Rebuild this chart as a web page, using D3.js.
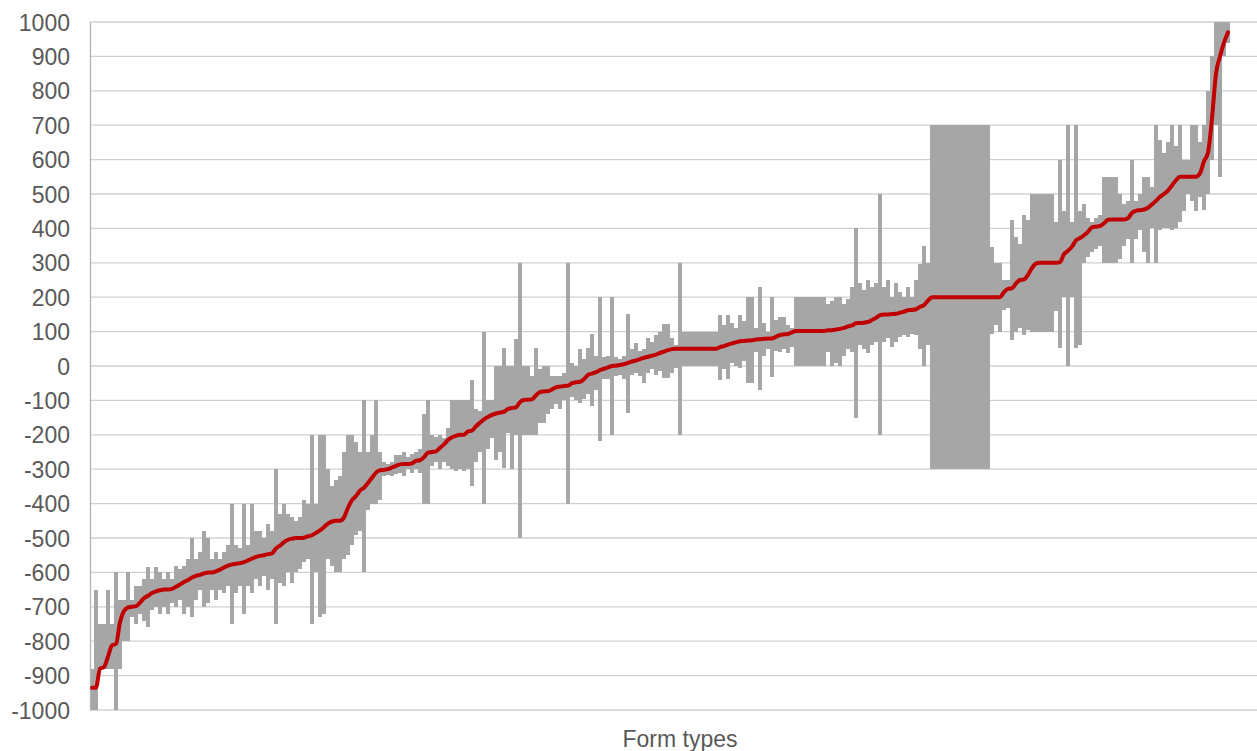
<!DOCTYPE html>
<html>
<head>
<meta charset="utf-8">
<script src="https://cdn.jsdelivr.net/npm/d3@7"></script>
<style>
  html, body { margin: 0; padding: 0; background: #ffffff; }
  svg { display: block; }
</style>
</head>
<body>
<svg id="chart" width="1257" height="751"></svg>
<script>
// Median value per form type, sorted ascending
const medianValues = [
  -935,-935,-880,-875,-845,-812,-808,-745,-712,-702,
  -700,-698,-688,-675,-668,-660,-655,-652,-650,-650,
  -648,-642,-635,-628,-622,-615,-610,-607,-603,-600,
  -600,-597,-592,-586,-580,-577,-575,-573,-570,-565,
  -560,-555,-552,-550,-547,-545,-530,-522,-512,-505,
  -502,-500,-500,-499,-495,-492,-485,-478,-468,-458,
  -452,-450,-450,-440,-412,-390,-378,-362,-354,-340,
  -325,-310,-303,-302,-300,-295,-290,-286,-285,-285,
  -283,-276,-274,-265,-252,-250,-248,-238,-228,-215,
  -207,-203,-200,-200,-190,-188,-175,-165,-155,-148,
  -142,-138,-135,-133,-125,-122,-120,-105,-99,-98,
  -97,-85,-76,-74,-73,-68,-62,-60,-58,-57,
  -50,-47,-46,-38,-26,-22,-18,-12,-8,-4,
  0,1,3,5,9,13,16,20,24,27,
  30,33,38,42,46,49,50,50,50,50,
  50,50,50,50,50,50,50,55,58,62,
  66,69,72,73,74,75,77,78,79,80,
  80,85,90,92,93,98,102,102,102,102,
  102,102,102,102,104,104,106,108,111,115,
  118,124,125,126,128,134,140,148,150,150,
  151,152,155,158,162,163,165,172,177,190,
  200,200,200,200,200,200,200,200,200,200,
  200,200,200,200,200,200,200,200,215,224,
  226,240,250,252,265,285,298,300,300,300,
  300,300,302,325,335,347,365,372,380,390,
  403,405,407,415,425,426,426,426,426,430,
  445,451,453,455,460,470,480,492,500,510,
  525,540,550,550,550,550,550,560,595,620,
  720,850,900,940,970
];

// Lowest value per form type
const minValues = [
  -1000,-1000,-880,-880,-880,-880,-1000,-880,-800,-800,
  -730,-750,-720,-740,-760,-710,-700,-720,-700,-720,
  -690,-700,-680,-720,-700,-730,-680,-650,-700,-690,
  -650,-680,-650,-660,-640,-750,-660,-640,-720,-640,
  -660,-620,-640,-610,-650,-620,-750,-630,-640,-600,
  -630,-600,-590,-570,-560,-750,-600,-730,-720,-560,
  -580,-600,-600,-560,-550,-520,-490,-480,-600,-420,
  -400,-400,-390,-320,-318,-320,-315,-310,-320,-300,
  -310,-300,-310,-400,-400,-290,-280,-300,-280,-290,
  -300,-305,-300,-305,-300,-350,-280,-250,-400,-240,
  -210,-272,-250,-296,-194,-300,-200,-500,-200,-200,
  -200,-200,-165,-165,-140,-126,-110,-126,-100,-400,
  -90,-100,-107,-95,-80,-116,-70,-218,-39,-39,
  -200,-30,-25,-39,-136,-25,-20,-29,-48,-20,
  -10,-25,-15,-34,-34,-20,-5,-200,0,0,
  0,0,0,0,0,0,0,-41,-10,-38,
  10,0,-7,15,-50,-50,40,-70,30,50,
  -31,45,40,50,37,56,0,0,0,0,
  0,0,0,0,40,0,10,0,30,50,
  40,-152,60,50,37,60,70,-200,70,80,
  55,70,85,90,85,94,90,50,0,60,
  -300,-300,-300,-300,-300,-300,-300,-300,-300,-300,
  -300,-300,-300,-300,-300,94,120,100,163,170,
  75,100,110,89,104,100,100,100,100,100,
  100,160,51,200,0,200,51,60,300,318,
  330,340,350,300,300,300,300,310,350,370,
  300,370,395,330,300,400,300,395,400,400,
  395,400,420,450,500,480,450,490,453,500,
  600,700,549,900,940
];

// Highest value per form type
const maxValues = [
  -880,-650,-750,-750,-650,-750,-600,-680,-680,-600,
  -680,-640,-640,-620,-585,-620,-585,-600,-620,-600,
  -620,-580,-590,-580,-560,-500,-560,-540,-480,-500,
  -560,-540,-560,-540,-520,-400,-520,-530,-400,-520,
  -400,-480,-480,-500,-460,-480,-300,-430,-400,-430,
  -440,-450,-440,-390,-400,-200,-400,-200,-200,-300,
  -350,-330,-320,-250,-200,-200,-220,-250,-100,-250,
  -200,-100,-250,-280,-285,-280,-260,-260,-250,-265,
  -255,-250,-240,-140,-100,-200,-205,-200,-210,-180,
  -100,-100,-100,-100,-100,-40,-126,-130,100,-100,
  -100,0,0,53,0,0,78,300,0,0,
  -29,53,-10,0,0,-29,-29,-29,-20,300,
  10,0,48,20,53,92,30,200,25,30,
  200,25,20,30,150,50,68,45,50,80,
  70,90,100,121,121,80,60,300,100,100,
  100,100,100,100,100,100,100,148,120,148,
  125,110,148,130,200,200,110,230,125,100,
  200,135,143,143,120,110,200,200,200,200,
  200,200,200,200,180,190,200,200,180,195,
  230,400,240,220,250,230,240,500,230,250,
  200,240,215,200,230,200,250,297,348,300,
  700,700,700,700,700,700,700,700,700,700,
  700,700,700,700,700,346,300,300,250,250,
  424,375,356,438,423,500,500,500,500,500,
  500,420,600,450,700,420,700,450,470,430,
  420,430,440,550,550,550,550,500,470,480,
  600,480,500,550,550,520,700,656,620,650,
  700,640,700,600,600,700,700,650,700,800,
  900,1000,1000,1000,1000
];

// Value axis ticks
const yTickValues = [-1000,-900,-800,-700,-600,-500,-400,-300,-200,-100,
  0,100,200,300,400,500,600,700,800,900,1000];
const xAxisTitle = "Form types";

const formTypes = d3.range(medianValues.length);
const rows = formTypes.map(i => ({
  i, median: medianValues[i], lo: minValues[i], hi: maxValues[i]
}));

const svg = d3.select("#chart");
const plotLeft = 90, plotRight = 1257, plotTop = 22, plotBottom = 710;

const x = d3.scaleBand().domain(formTypes).range([plotLeft, 1230]).padding(0);
const y = d3.scaleLinear().domain([-1000, 1000]).range([plotBottom, plotTop]);

const font = "'Liberation Sans', Arial, sans-serif";

// Horizontal gridlines
svg.append("g")
  .selectAll("line")
  .data(yTickValues)
  .join("line")
  .attr("x1", plotLeft).attr("x2", plotRight)
  .attr("y1", d => y(d)).attr("y2", d => y(d))
  .attr("stroke", "#d0d0d0")
  .attr("stroke-width", 1.3);

// Min–max range per form type
svg.append("g")
  .selectAll("rect")
  .data(rows)
  .join("rect")
  .attr("x", d => x(d.i))
  .attr("width", x.bandwidth() + 0.3)
  .attr("y", d => y(d.hi))
  .attr("height", d => Math.max(1.2, y(d.lo) - y(d.hi)))
  .attr("fill", "#a6a6a6")
  .attr("shape-rendering", "crispEdges");

// Value axis
const yAxis = d3.axisLeft(y)
  .tickValues(yTickValues)
  .tickSize(0)
  .tickPadding(20)
  .tickFormat(d => String(d));

const gy = svg.append("g")
  .attr("transform", `translate(${plotLeft},0)`)
  .call(yAxis);
gy.select(".domain").attr("stroke", "#b3b3b3").attr("stroke-width", 1.3);
gy.selectAll("text")
  .attr("font-family", font)
  .attr("font-size", 23)
  .attr("fill", "#595959")
  .attr("dy", "0.35em");

// Median line
const line = d3.line()
  .x(d => x(d.i) + x.bandwidth() / 2)
  .y(d => y(d.median))
  .curve(d3.curveMonotoneX);

svg.append("path")
  .datum(rows)
  .attr("d", line)
  .attr("fill", "none")
  .attr("stroke", "#c00000")
  .attr("stroke-width", 4)
  .attr("stroke-linejoin", "round")
  .attr("stroke-linecap", "round");

// Category axis title
svg.append("text")
  .attr("x", 680)
  .attr("y", 747)
  .attr("text-anchor", "middle")
  .attr("font-family", font)
  .attr("font-size", 23)
  .attr("fill", "#595959")
  .text(xAxisTitle);
</script>
</body>
</html>
